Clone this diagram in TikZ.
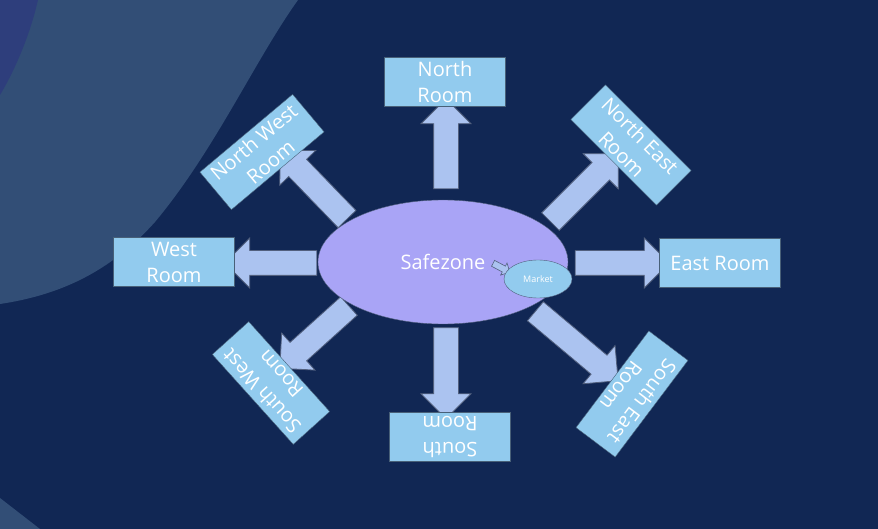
\documentclass[tikz,border=0pt]{standalone}
\usepackage{fontspec}
\setmainfont{Open Sans}
\usetikzlibrary{shapes,arrows,positioning,calc}

\definecolor{bgnavy}{RGB}{17,39,84}
\definecolor{wave}{RGB}{50,78,118}
\definecolor{wavetop}{RGB}{46,62,124}
\definecolor{roomfill}{RGB}{146,203,238}
\definecolor{roomline}{RGB}{72,96,120}
\definecolor{arrowfill}{RGB}{171,195,240}
\definecolor{arrowline}{RGB}{82,96,126}
\definecolor{safefill}{RGB}{169,164,246}

\tikzset{
    room/.style={draw=roomline, fill=roomfill, text=white, align=center,
        minimum width=121pt, minimum height=49pt, inner sep=1pt,
        font=\fontsize{20}{26}\selectfont},
    bigarrow/.style={single arrow, draw=arrowline, fill=arrowfill, line width=0.8pt,
        inner xsep=0pt, inner ysep=12pt, single arrow head extend=12.5pt,
        minimum height=84pt}
}

\begin{document}
\begin{tikzpicture}[x=1pt,y=-1pt]
    % background
    \fill[bgnavy] (0,0) rectangle (878,529);
    \useasboundingbox (0,0) rectangle (878,529);
    \fill[wave] (0,0) -- (298,0) .. controls (255,60) and (215,150) .. (155,222)
        .. controls (110,272) and (60,295) .. (0,304) -- cycle;
    \fill[wavetop] (0,0) -- (38,0) .. controls (30,35) and (15,70) .. (0,95) -- cycle;
    \fill[wave] (0,498) -- (40,529) -- (0,529) -- cycle;

    % arrows out of the safezone
    \node[bigarrow, rotate=90, minimum height=90pt] (toN) at (446,150) {};
    \node[bigarrow, rotate=0, minimum height=94pt] (toE) at (616,263) {};
    \node[bigarrow, rotate=180, minimum height=92pt] (toW) at (277,263) {};
    \node[bigarrow, rotate=-90, minimum height=91pt] (toS) at (446,367) {};
    \node[bigarrow, rotate=134, minimum height=96pt] (toNW) at (318,189) {};
    \node[bigarrow, rotate=45, minimum height=96pt] (toNE) at (580,192) {};
    \node[bigarrow, rotate=222, minimum height=93pt] (toSW) at (319,333) {};
    \node[bigarrow, rotate=-40, minimum height=108pt] (toSE) at (572,342) {};

    % rooms
    \node[room] (north) at (445,82) {North\\Room};
    \node[room] (east) at (720,263) {East Room};
    \node[room] (west) at (174,262) {West\\Room};
    \node[room, rotate=180] (south) at (450,437) {South\\Room};
    \node[room, rotate=40] (northwest) at (262,152) {North West\\Room};
    \node[room, rotate=-45] (northeast) at (631,145) {North East\\Room};
    \node[room, rotate=132] (southwest) at (271,383) {South West\\Room};
    \node[room, rotate=-127] (southeast) at (632,394) {South East\\Room};

    % safezone and market
    \node[draw=arrowline, fill=safefill, ellipse, minimum width=250pt, minimum height=124pt,
        text=white, font=\fontsize{20}{24}\selectfont] (safe) at (443,262) {Safezone};
    \node[single arrow, draw=arrowline, fill=arrowfill, line width=0.6pt, inner xsep=0pt,
        inner ysep=3pt, single arrow head extend=3.5pt, minimum height=19pt,
        rotate=-28] (toMarket) at (500,267) {};
    \node[draw=arrowline, fill=roomfill, ellipse, minimum width=68pt, minimum height=38pt,
        text=white, font=\fontsize{9}{10}\selectfont] (market) at (538,279) {Market};
\end{tikzpicture}
\end{document}
